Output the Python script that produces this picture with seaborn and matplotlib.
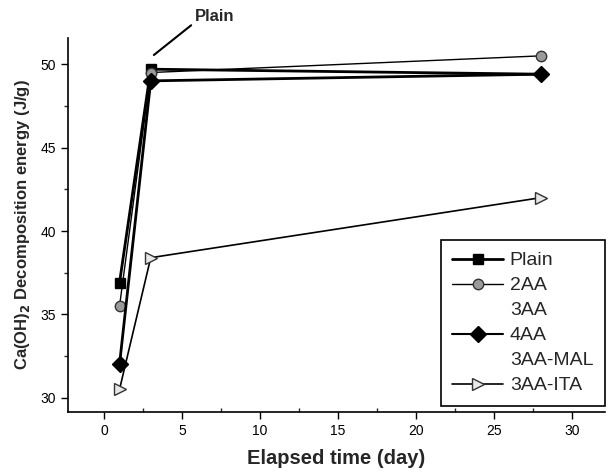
import matplotlib
matplotlib.use("Agg")
import matplotlib.pyplot as plt
from matplotlib.lines import Line2D
from matplotlib.ticker import MultipleLocator
import seaborn as sns
import pandas as pd

# ---- data ----
days = [1, 3, 28]
plain = [36.9, 49.7, 49.4]
aa2 = [35.5, 49.5, 50.5]
aa4 = [32.0, 49.0, 49.4]
aa3_ita = [30.5, 38.4, 42.0]
legend_labels = ["Plain", "2AA", "3AA", "4AA", "3AA-MAL", "3AA-ITA"]
x_ticks = [0, 5, 10, 15, 20, 25, 30]
y_ticks = [30, 35, 40, 45, 50]

sns.set_theme(style="ticks")
plt.rcParams["font.family"] = ["Liberation Sans", "DejaVu Sans"]

fig = plt.figure(figsize=(6.08, 4.74), dpi=100)
ax = fig.add_axes([68/608, 1 - 412/474, (605-68)/608, (412-38)/474])

styles = {
    "Plain": dict(marker="s", markersize=7.5, lw=2.0, mfc="black", mec="black", every=[0, 1]),
    "2AA": dict(marker="o", markersize=7.5, lw=1.0, mfc="#9a9a9a", mec="#333333", every=None),
    "4AA": dict(marker="D", markersize=8, lw=2.0, mfc="black", mec="black", every=None),
    "3AA-ITA": dict(marker=">", markersize=8.5, lw=1.2, mfc="#e8e8e8", mec="#333333", every=None),
}
series = {"Plain": plain, "2AA": aa2, "4AA": aa4, "3AA-ITA": aa3_ita}

for name, vals in series.items():
    st = styles[name]
    df = pd.DataFrame({"x": days, "y": vals})
    sns.lineplot(data=df, x="x", y="y", ax=ax, color="black", linewidth=st["lw"],
                 marker=st["marker"], markersize=st["markersize"],
                 markerfacecolor=st["mfc"], markeredgecolor=st["mec"],
                 markeredgewidth=1.0, markevery=st["every"], legend=False, zorder=3)

ax.set_xlim(-2.3, 32.1)
ax.set_ylim(29.15, 51.57)
ax.set_xticks(x_ticks)
ax.set_yticks(y_ticks)
ax.xaxis.set_minor_locator(MultipleLocator(2.5))
ax.yaxis.set_minor_locator(MultipleLocator(2.5))
ax.tick_params(which="major", direction="out", length=5, width=1, labelsize=10, colors="black")
ax.tick_params(axis="x", which="minor", direction="in", length=3, width=1)
ax.tick_params(axis="y", which="minor", direction="out", length=3, width=1)
for s in ["top", "right"]:
    ax.spines[s].set_visible(False)
for s in ["left", "bottom"]:
    ax.spines[s].set_color("black")
    ax.spines[s].set_linewidth(1.2)

ax.set_xlabel("Elapsed time (day)", fontsize=14.5, fontweight="bold", labelpad=8)
ax.set_ylabel(r"Ca(OH)$_\mathbf{2}$ Decomposition energy (J/g)", fontsize=12, fontweight="bold", labelpad=6)

ax.annotate("Plain", xy=(3.2, 50.55), xytext=(5.8, 52.4), fontsize=12, fontweight="bold",
            ha="left", va="bottom", annotation_clip=False,
            arrowprops=dict(arrowstyle="-", color="black", lw=1.5, shrinkA=0, shrinkB=0,
                            relpos=(0.0, 0.1)))

handles = []
for lab in legend_labels:
    if lab in styles:
        st = styles[lab]
        handles.append(Line2D([], [], color="black", lw=st["lw"] if lab != "4AA" else 1.5,
                              marker=st["marker"], markersize=st["markersize"],
                              markerfacecolor=st["mfc"], markeredgecolor=st["mec"]))
    else:
        handles.append(Line2D([], [], color="none", lw=0, marker=None))
leg = ax.legend(handles, legend_labels, loc="lower right",
                bbox_to_anchor=(605/608, 1 - 406/474), bbox_transform=fig.transFigure,
                fontsize=14, frameon=True, fancybox=False, framealpha=1,
                edgecolor="black", handlelength=2.6, handletextpad=0.35,
                labelspacing=0.38, borderpad=0.6, borderaxespad=0)
leg.get_frame().set_linewidth(1.2)

fig.savefig("out.png", dpi=100)
